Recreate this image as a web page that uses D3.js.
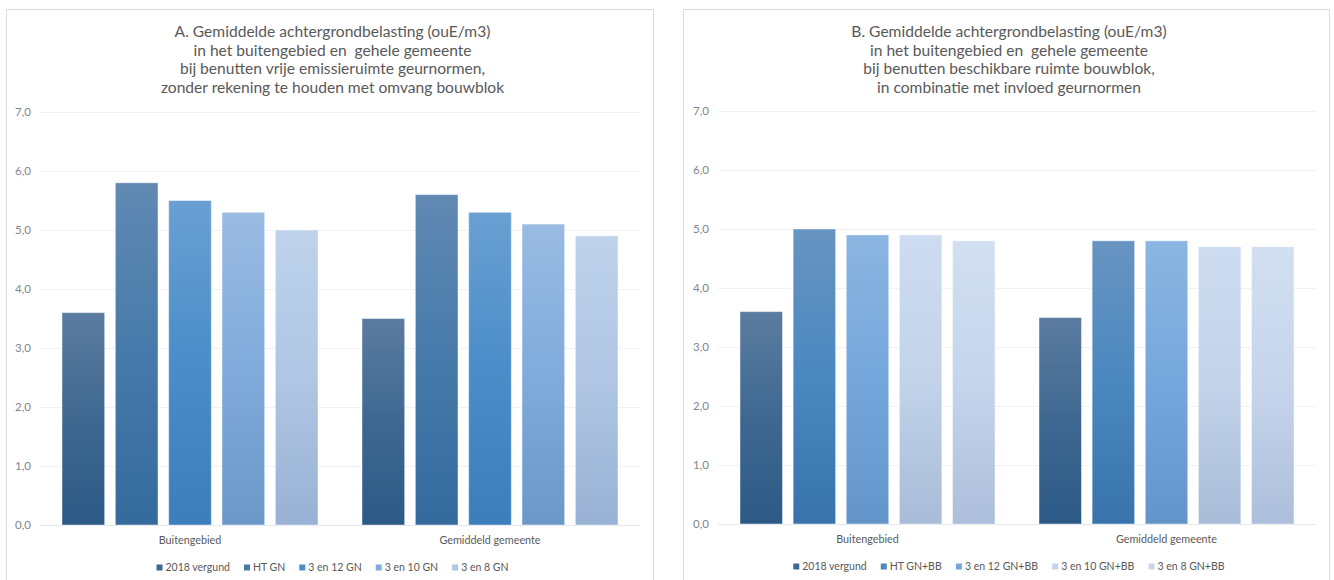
<!DOCTYPE html>
<html>
<head>
<meta charset="utf-8">
<script src="https://cdn.jsdelivr.net/npm/d3@7"></script>
<style>
  html, body { margin: 0; padding: 0; background: #fff; }
  svg { display: block; }
  text { font-family: Lato, "Open Sans", sans-serif; white-space: pre; }
</style>
</head>
<body>
<svg id="chart" width="1334" height="580"></svg>
<script>
// ---------- data ----------
const categories = ["Buitengebied", "Gemiddeld gemeente"];

const titleA = [
  "A. Gemiddelde achtergrondbelasting (ouE/m3)",
  "in het buitengebied en  gehele gemeente",
  "bij benutten vrije emissieruimte geurnormen,",
  "zonder rekening te houden met omvang bouwblok"
];
const seriesA = ["2018 vergund", "HT GN", "3 en 12 GN", "3 en 10 GN", "3 en 8 GN"];
const valuesA = [
  [3.6, 5.8, 5.5, 5.3, 5.0],   // Buitengebied
  [3.5, 5.6, 5.3, 5.1, 4.9]    // Gemiddeld gemeente
];

const titleB = [
  "B. Gemiddelde achtergrondbelasting (ouE/m3)",
  "in het buitengebied en  gehele gemeente",
  "bij benutten beschikbare ruimte bouwblok,",
  "in combinatie met invloed geurnormen"
];
const seriesB = ["2018 vergund", "HT GN+BB", "3 en 12 GN+BB", "3 en 10 GN+BB", "3 en 8 GN+BB"];
const valuesB = [
  [3.6, 5.0, 4.9, 4.9, 4.8],
  [3.5, 4.8, 4.8, 4.7, 4.7]
];

const yTicks = [0, 1, 2, 3, 4, 5, 6, 7];

// gradient colours per series: [top, middle, bottom]
const gradA = [
  ["#5b7c9f", "#3f6891", "#2c5a86"],
  ["#6189b3", "#467aaa", "#356a9d"],
  ["#6aa0d2", "#4a8dc9", "#3c7dbb"],
  ["#9abbe2", "#80abdc", "#6b98c9"],
  ["#bed2eb", "#b0c6e4", "#98b1d4"]
];
const gradB = [
  ["#5b7c9f", "#3f6891", "#2c5a86"],
  ["#6894c1", "#4a88c0", "#3874ab"],
  ["#8cb5e1", "#75a7dc", "#6394ca"],
  ["#cddcf0", "#c2d3ea", "#a8bcd8"],
  ["#d2dff1", "#c6d5ec", "#adbedb"]
];

// ---------- drawing ----------
const svg = d3.select("#chart");
const defs = svg.append("defs");

function drawPanel(cfg) {
  const { box, plot, title, series, values, grad, id } = cfg;
  const g = svg.append("g");

  // panel frame
  g.append("rect")
    .attr("x", box.x + 0.5).attr("y", box.y + 0.5)
    .attr("width", box.w).attr("height", box.h)
    .attr("fill", "#fff").attr("stroke", "#d9dde3").attr("stroke-width", 1);

  // title
  const cx = box.x + box.w / 2;
  g.append("g").selectAll("text").data(title).join("text")
    .attr("x", cx + 3)
    .attr("y", (d, i) => 37 + i * 18.5)
    .attr("text-anchor", "middle")
    .attr("font-size", 15.6)
    .attr("fill", "#595959")
    .text(d => d);

  // scales
  const y = d3.scaleLinear().domain([0, 7]).range([plot.y1, plot.y0]);
  const x0 = d3.scaleBand().domain(categories).range([plot.x0, plot.x1]).paddingInner(0).paddingOuter(0);
  const x1 = d3.scaleBand().domain(d3.range(series.length))
    .range([22, x0.bandwidth() - 22]).paddingInner(0.2).paddingOuter(0);

  // gridlines
  g.append("g").selectAll("line").data(yTicks).join("line")
    .attr("x1", plot.x0).attr("x2", plot.x1)
    .attr("y1", d => Math.round(y(d)) + 0.5).attr("y2", d => Math.round(y(d)) + 0.5)
    .attr("stroke", d => d === 0 ? "#e4e6ea" : "#f0f1f3").attr("stroke-width", 1);

  // y axis labels via d3 axis
  const yAxis = d3.axisLeft(y).tickValues(yTicks).tickSize(0).tickPadding(0)
    .tickFormat(d => d3.format(".1f")(d).replace(".", ","));
  const ax = g.append("g").attr("transform", `translate(${plot.x0 - 9},0)`).call(yAxis);
  ax.select(".domain").remove();
  ax.selectAll("text").attr("font-size", 11.5).attr("fill", "#7f8590")
    .attr("font-family", "Lato, 'Open Sans', sans-serif");

  // gradients
  grad.forEach((c, i) => {
    const lg = defs.append("linearGradient").attr("id", `${id}-g${i}`)
      .attr("x1", 0).attr("y1", 0).attr("x2", 0).attr("y2", 1);
    lg.append("stop").attr("offset", "0%").attr("stop-color", c[0]);
    lg.append("stop").attr("offset", "50%").attr("stop-color", c[1]);
    lg.append("stop").attr("offset", "100%").attr("stop-color", c[2]);
  });

  // bars
  const groups = g.append("g").selectAll("g").data(categories).join("g")
    .attr("transform", d => `translate(${x0(d)},0)`);
  groups.selectAll("rect").data((d, ci) => values[ci].map((v, si) => ({ v, si })))
    .join("rect")
    .attr("x", d => x1(d.si))
    .attr("y", d => y(d.v))
    .attr("width", x1.bandwidth())
    .attr("height", d => y(0) - y(d.v))
    .attr("fill", d => `url(#${id}-g${d.si})`)
    .attr("stroke", "rgba(255,255,255,0.45)")
    .attr("stroke-width", 1);

  // category labels
  g.append("g").selectAll("text").data(categories).join("text")
    .attr("x", d => x0(d) + x0.bandwidth() / 2)
    .attr("y", plot.y1 + 19)
    .attr("text-anchor", "middle")
    .attr("font-size", 10.8)
    .attr("fill", "#595959")
    .text(d => d);

  // legend
  const lg = g.append("g");
  const items = lg.selectAll("g").data(series).join("g");
  items.append("rect").attr("width", 6).attr("height", 6).attr("y", -6.5)
    .attr("fill", (d, i) => grad[i][1]);
  items.append("text").attr("x", 9).attr("y", 0)
    .attr("font-size", 10.5).attr("fill", "#595959").text(d => d);
  const widths = [];
  items.each(function () { widths.push(this.getBBox().width); });
  const gap = 14;
  const offs = [];
  let off = 0;
  widths.forEach(w => { offs.push(off); off += w + gap; });
  const total = off - gap;
  items.attr("transform", (d, i) => `translate(${offs[i]},0)`);
  lg.attr("transform", `translate(${cx + 3 - total / 2},${plot.y1 + 46})`);
}

drawPanel({
  id: "A",
  box: { x: 6, y: 9, w: 647, h: 580 },
  plot: { x0: 40, x1: 640, y0: 112, y1: 525 },
  title: titleA, series: seriesA, values: valuesA, grad: gradA
});

drawPanel({
  id: "B",
  box: { x: 683, y: 9, w: 646, h: 580 },
  plot: { x0: 718, x1: 1316, y0: 111, y1: 524 },
  title: titleB, series: seriesB, values: valuesB, grad: gradB
});
</script>
</body>
</html>
